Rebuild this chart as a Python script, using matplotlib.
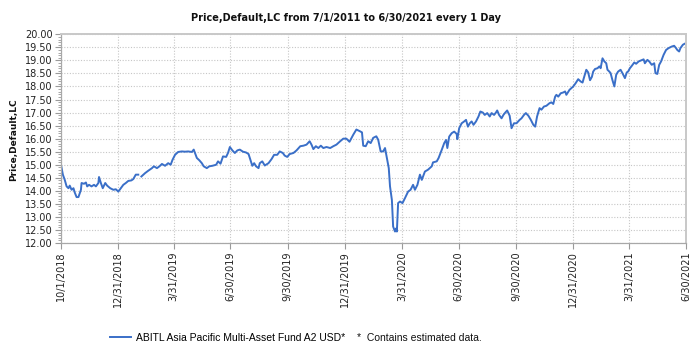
import numpy as np
import matplotlib
matplotlib.use("Agg")
import matplotlib.pyplot as plt
from matplotlib.ticker import MultipleLocator, FormatStrFormatter
import pandas as pd

# Daily NAV series, stored as days elapsed since the first observation
start_date = "2018-10-01"
end_date = "2021-06-30"

day_offset = [
    0, 3, 6, 9, 12, 14, 17, 20, 22, 25, 28, 32, 33, 37, 40, 42, 45, 49, 53, 56,
    60, 61, 64, 67, 71, 74, 79, 84, 88, 92, 96, 100, 104, 108, 113, 116, 120, 124,
    126,
    129, 135, 140, 146, 149, 154, 158, 162, 167, 172, 176, 179, 183, 188, 194, 199,
    204, 210, 213, 218, 222, 226, 229, 234, 238, 243, 249, 252, 256, 260, 265, 268,
    271, 275, 279, 283, 287, 292, 297, 301, 303, 307, 310, 313, 317, 319, 323, 327,
    333, 338, 342, 347, 351, 356, 359, 363, 367, 373, 378, 384, 389, 394, 399, 402,
    405, 409, 413, 417, 421, 426, 432, 437, 442, 448, 453, 458, 463,
    469, 474, 480, 483, 485, 489, 493, 497, 501, 506, 509, 513, 517, 520, 523, 526,
    528, 531, 533, 536, 538, 539, 541, 544, 548, 552, 557, 561, 565, 568, 572, 576,
    579, 584, 589, 595, 597, 603, 606,
    611, 615, 618, 620, 623, 627, 631, 635, 636, 639, 643, 647, 650, 653, 656, 659,
    662, 666, 670, 673, 677, 680, 684, 688, 691, 695, 698, 700, 703, 707, 710, 713,
    716, 720, 723, 727, 731, 736, 739, 743, 746, 750, 754, 758, 761, 764, 768, 771,
    775, 779, 784, 787, 790, 793, 795, 798, 802, 806, 809, 811, 816,
    822, 826, 830, 834, 837, 839, 843, 846, 849, 852, 854, 857, 861, 864, 866, 869,
    872, 875, 877, 880, 882, 885, 888, 891, 894, 898, 901, 905, 908, 910, 913, 916,
    920, 923, 927, 930, 935, 937, 941, 944, 948, 952, 954, 957, 960, 963, 967, 971,
    975, 980, 984, 987, 989, 992, 994, 998, 1001, 1003,
]

price = [
    15.00, 14.62, 14.42, 14.17, 14.10, 14.20, 14.04, 14.10, 13.94, 13.76, 13.76, 14.04,
    14.30, 14.27, 14.32, 14.17, 14.23, 14.17, 14.23, 14.17, 14.30, 14.53, 14.30, 14.10,
    14.30, 14.20, 14.10, 14.04, 14.06, 13.97, 14.10, 14.23, 14.30, 14.38, 14.40, 14.45,
    14.62, 14.62,
    np.nan,
    14.55, 14.68, 14.77, 14.87, 14.94, 14.87, 14.94, 15.03, 14.96, 15.06, 15.00, 15.19,
    15.38, 15.49, 15.51, 15.50, 15.51, 15.49, 15.58, 15.26, 15.17, 15.06, 14.94, 14.87,
    14.94, 14.96, 15.00, 15.13, 15.04, 15.32, 15.30, 15.45, 15.68, 15.55, 15.45, 15.55,
    15.58, 15.50, 15.47, 15.41, 15.26, 14.96, 15.06, 14.94, 14.87, 15.06, 15.13, 14.97,
    15.06, 15.22, 15.38, 15.38, 15.51, 15.45, 15.35, 15.30, 15.41, 15.45, 15.55, 15.71,
    15.73, 15.77, 15.90, 15.77, 15.60, 15.71, 15.64, 15.73, 15.64, 15.68, 15.64, 15.71,
    15.77, 15.90, 16.00, 16.00, 15.88,
    16.15, 16.35, 16.28, 16.24, 15.73, 15.71, 15.90, 15.83, 16.03, 16.09, 15.96, 15.51,
    15.51, 15.64, 15.26, 14.87, 14.17, 13.65, 12.63, 12.44, 12.56, 12.44, 13.53, 13.59,
    13.53, 13.72, 13.97, 14.04, 14.23, 14.04, 14.23, 14.62, 14.42, 14.74, 14.81, 14.94,
    15.09, 15.13, 15.26,
    15.57, 15.83, 15.95, 15.64, 16.08, 16.21, 16.27, 16.18, 15.98, 16.40, 16.59, 16.66,
    16.72, 16.46, 16.59, 16.66, 16.53, 16.66, 16.85, 17.04, 17.00, 16.91, 16.98, 16.85,
    16.98, 16.91, 17.00, 17.08, 16.91, 16.78, 16.91, 17.00, 17.08, 16.88, 16.40, 16.59,
    16.59, 16.72, 16.78, 16.91, 16.98, 16.88, 16.72, 16.53, 16.46, 16.85, 17.17, 17.11,
    17.23, 17.26, 17.36, 17.39, 17.33, 17.61, 17.68, 17.61, 17.74, 17.77, 17.81, 17.68,
    17.87,
    18.00, 18.13, 18.28, 18.19, 18.15, 18.32, 18.64, 18.54, 18.24, 18.37, 18.57, 18.67,
    18.70, 18.77, 18.70, 19.08, 18.96, 18.89, 18.64, 18.57, 18.51, 18.24, 18.00, 18.45,
    18.57, 18.64, 18.51, 18.32, 18.54, 18.57, 18.70, 18.79, 18.92, 18.87, 18.96, 18.99,
    19.04, 18.89, 19.02, 18.96, 18.83, 18.89, 18.51, 18.48, 18.83, 18.96, 19.21, 19.40,
    19.47, 19.53, 19.56, 19.47, 19.40, 19.34, 19.47, 19.60, 19.64, 19.66,
]

tick_dates = [
    "2018-10-01", "2018-12-31", "2019-03-31", "2019-06-30", "2019-09-30", "2019-12-31",
    "2020-03-31", "2020-06-30", "2020-09-30", "2020-12-31", "2021-03-31", "2021-06-30",
]
tick_labels = [
    "10/1/2018", "12/31/2018", "3/31/2019", "6/30/2019", "9/30/2019", "12/31/2019",
    "3/31/2020", "6/30/2020", "9/30/2020", "12/31/2020", "3/31/2021", "6/30/2021",
]

series_name = "ABITL Asia Pacific Multi-Asset Fund A2 USD*"
note_text = "*  Contains estimated data."
title_text = "Price,Default,LC from 7/1/2011 to 6/30/2021 every 1 Day"
y_title = "Price,Default,LC"
y_min, y_max, y_step = 12.0, 20.0, 0.5

dates = pd.Timestamp(start_date) + pd.to_timedelta(day_offset, unit="D")

W, H = 689, 360
fig = plt.figure(figsize=(W / 100, H / 100), dpi=100)
fig.patch.set_facecolor("white")

left, right, top, bottom = 61, 686, 34.3, 243
ax = fig.add_axes([left / W, 1 - bottom / H, (right - left) / W, (bottom - top) / H])

line, = ax.plot(dates, price, color="#3a6fc8", lw=1.4, solid_joinstyle="round")

ax.set_xlim(pd.Timestamp(start_date), pd.Timestamp(end_date))
ax.set_ylim(y_min, y_max)

ax.set_xticks(pd.to_datetime(tick_dates))
ax.set_xticklabels(tick_labels, rotation=90, fontsize=7, color="#222222")
ax.yaxis.set_major_locator(MultipleLocator(y_step))
ax.yaxis.set_minor_locator(MultipleLocator(0.1))
ax.yaxis.set_major_formatter(FormatStrFormatter("%.2f"))
for lab in ax.get_yticklabels():
    lab.set_fontsize(7)
    lab.set_color("#222222")

ax.tick_params(axis="both", which="major", length=4, width=0.8, color="#9a9a9a", pad=2)
ax.tick_params(axis="y", which="minor", length=2, width=0.6, color="#9a9a9a")

ax.grid(True, which="major", linestyle=(0, (1, 1.5)), color="#c6c6c6", lw=0.8)
ax.set_axisbelow(True)
for side in ("left", "bottom"):
    ax.spines[side].set_color("#a8a8a8")
    ax.spines[side].set_linewidth(0.9)
for side in ("top", "right"):
    ax.spines[side].set_color("#c8c8c8")
    ax.spines[side].set_linewidth(1.4)

fig.text(346 / W, 1 - 18 / H, title_text, ha="center", va="center",
         fontsize=7, fontweight="bold", color="#111111")
fig.text(14 / W, 1 - 140 / H, y_title, ha="center", va="center", rotation=90,
         fontsize=6.5, fontweight="bold", color="#111111")

fig.legend([line], [series_name], loc="center left",
           bbox_to_anchor=(110 / W, 1 - 338 / H), frameon=False,
           handlelength=2.0, handletextpad=0.45, borderaxespad=0, borderpad=0,
           prop={"family": "Liberation Sans", "size": 7.5})
fig.text(357 / W, 1 - 338 / H, note_text, ha="left", va="center",
         fontsize=7.5, family="Liberation Sans", color="#111111")

fig.savefig("out.png", dpi=100)
